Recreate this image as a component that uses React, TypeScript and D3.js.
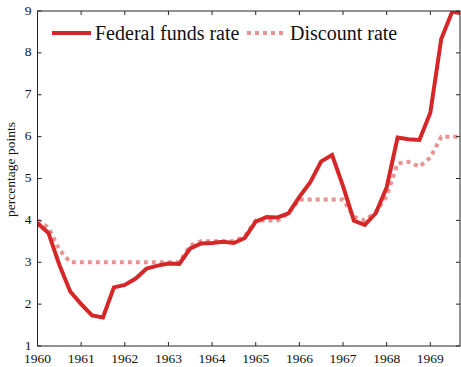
import React from "react";
import * as d3 from "d3";

// Quarterly observations, 1960Q1 – 1969Q4 (percent)
const quarters: number[] = d3.range(40).map((i) => 1960 + i * 0.25);

const fedFunds: number[] = [
  3.93, 3.70, 2.94, 2.30,
  2.00, 1.73, 1.68, 2.40,
  2.46, 2.61, 2.85, 2.92,
  2.97, 2.96, 3.33, 3.45,
  3.46, 3.49, 3.46, 3.58,
  3.97, 4.08, 4.07, 4.17,
  4.56, 4.91, 5.41, 5.56,
  4.82, 3.99, 3.89, 4.17,
  4.79, 5.98, 5.94, 5.92,
  6.57, 8.33, 8.98, 8.94,
];

const discount: number[] = [
  4.00, 3.83, 3.30, 3.00,
  3.00, 3.00, 3.00, 3.00,
  3.00, 3.00, 3.00, 3.00,
  3.00, 3.00, 3.40, 3.50,
  3.50, 3.50, 3.50, 3.62,
  4.00, 4.00, 4.00, 4.17,
  4.50, 4.50, 4.50, 4.50,
  4.50, 4.08, 4.00, 4.20,
  4.58, 5.36, 5.40, 5.28,
  5.50, 6.00, 6.00, 6.00,
];

const xTicks: number[] = [1960, 1961, 1962, 1963, 1964, 1965, 1966, 1967, 1968, 1969];
const yTicks: number[] = [1, 2, 3, 4, 5, 6, 7, 8, 9];

const W = 461;
const H = 367;
const left = 37.5;
const right = 460;
const top = 11;
const bottom = 346;

const RED = "#d62728";
const FONT = "Liberation Serif, Times New Roman, Times, DejaVu Serif, serif";
const AXIS = "#262626";

const textStyle = { fontFamily: FONT };

export default function App() {
  const x = d3.scaleLinear().domain([1960, 1969.68]).range([left, right]);
  const y = d3.scaleLinear().domain([1, 9]).range([bottom, top]);

  const line = d3
    .line<number>()
    .x((_, i) => x(quarters[i]))
    .y((d) => y(d));

  const tickLen = 4;

  return (
    <svg
      width={W}
      height={H}
      style={{ position: "absolute", left: 0, top: 0, background: "#fff" }}
    >
      <defs>
        <clipPath id="plot-area">
          <rect x={left} y={top} width={right - left} height={bottom - top} />
        </clipPath>
      </defs>
      <rect x={0} y={0} width={W} height={H} fill="#fff" />

      {/* series */}
      <g clipPath="url(#plot-area)" fill="none" strokeLinejoin="miter">
        <path
          d={line(discount) ?? ""}
          stroke={RED}
          strokeOpacity={0.5}
          strokeWidth={4}
          strokeDasharray="4 4"
        />
        <path d={line(fedFunds) ?? ""} stroke={RED} strokeWidth={4} />
      </g>

      {/* frame */}
      <rect
        x={left}
        y={top}
        width={right - left}
        height={bottom - top}
        fill="none"
        stroke={AXIS}
        strokeWidth={1}
      />

      {/* x ticks (bottom and top) */}
      {xTicks.map((t) => (
        <g key={"x" + t}>
          <line x1={x(t)} x2={x(t)} y1={bottom} y2={bottom - tickLen} stroke={AXIS} />
          <line x1={x(t)} x2={x(t)} y1={top} y2={top + tickLen} stroke={AXIS} />
          <text
            x={x(t)}
            y={bottom + 17}
            textAnchor="middle"
            style={textStyle}
            fontSize={13.5}
            fill="#111"
          >
            {t}
          </text>
        </g>
      ))}

      {/* y ticks (left and right) */}
      {yTicks.map((t) => (
        <g key={"y" + t}>
          <line x1={left} x2={left + tickLen} y1={y(t)} y2={y(t)} stroke={AXIS} />
          <line x1={right} x2={right - tickLen} y1={y(t)} y2={y(t)} stroke={AXIS} />
          <text
            x={left - 6}
            y={y(t) + 3.5}
            textAnchor="end"
            style={textStyle}
            fontSize={13.5}
            fill="#111"
          >
            {t}
          </text>
        </g>
      ))}

      {/* y axis title */}
      <text
        transform={`translate(15, ${(top + bottom) / 2 - 9}) rotate(-90)`}
        textAnchor="middle"
        style={textStyle}
        fontSize={13.5}
        fill="#111"
      >
        percentage points
      </text>

      {/* legend */}
      <g>
        <line x1={52} x2={91} y1={33} y2={33} stroke={RED} strokeWidth={4} />
        <text x={95} y={39.5} style={textStyle} fontSize={20} fill="#111">
          Federal funds rate
        </text>
        <line
          x1={247}
          x2={285}
          y1={33}
          y2={33}
          stroke={RED}
          strokeOpacity={0.5}
          strokeWidth={4}
          strokeDasharray="4 4"
        />
        <text x={290} y={39.5} style={textStyle} fontSize={20} fill="#111">
          Discount rate
        </text>
      </g>
    </svg>
  );
}
